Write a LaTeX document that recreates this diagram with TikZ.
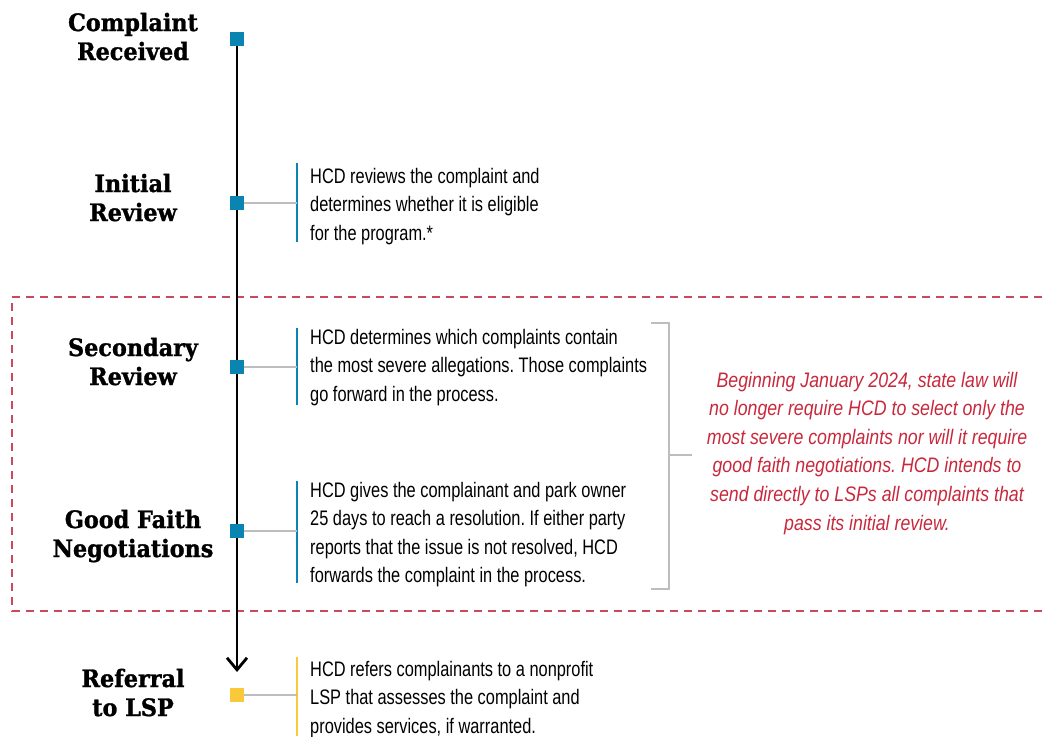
\documentclass[tikz,border=0pt]{standalone}
\usepackage{fontspec}
\setmainfont{Liberation Sans}[FakeStretch=0.78]
\newfontfamily\headfont{DejaVu Serif}[FakeStretch=0.93, BoldFeatures={FakeBold=1.2}]
\newfontfamily\notefont{Liberation Sans}[FakeStretch=0.845]
\usetikzlibrary{arrows.meta}
\frenchspacing

\definecolor{stepblue}{HTML}{0A84B0}
\definecolor{stepyellow}{HTML}{F9C93A}
\definecolor{notered}{HTML}{C8283C}
\definecolor{boxred}{HTML}{C94A5A}
\definecolor{linkgray}{HTML}{BDBDBD}

% multi-line nodes are anchored at the baseline of their last line
\tikzset{
  heading/.style={font=\headfont\bfseries\fontsize{24}{29}\selectfont, align=center, anchor=base, inner sep=0pt},
  body/.style={font=\fontsize{21}{28.5}\selectfont, align=left, anchor=base west, inner sep=0pt},
  note/.style={font=\notefont\itshape\fontsize{21}{28.6}\selectfont, text=notered, align=center, anchor=base, inner sep=0pt},
  marker/.style={minimum size=14pt, inner sep=0pt, fill=stepblue},
  link/.style={draw=linkgray, line width=1.5pt},
  textbar/.style={draw=stepblue, line width=2pt},
  timeline/.style={draw=black, line width=2.8pt},
  dashbox/.style={draw=boxred, line width=1.5pt, dash pattern=on 8pt off 6pt},
  bracket/.style={draw=linkgray, line width=1.5pt},
}

\begin{document}
\begin{tikzpicture}[x=1pt, y=-1pt]
\useasboundingbox (0,0) rectangle (1046,736);

% dashed frame around the steps that are being dropped
\draw[dashbox] (1042,297) -| (12,611) -- (1042,611);

% main timeline
\coordinate (top) at (237,39);
\coordinate (tip) at (237,672);
\draw[timeline, -{Straight Barb[length=12pt, width=20pt]}] (top) -- (tip);

% step markers
\node[marker] (m1) at (237,39) {};
\node[marker] (m2) at (237,203) {};
\node[marker] (m3) at (237,367) {};
\node[marker] (m4) at (237,531) {};
\node[marker, fill=stepyellow] (m5) at (237,695) {};

% step headings
\node[heading] (h1) at (133,60) {Complaint\\Received};
\node[heading] (h2) at (133,221) {Initial\\Review};
\node[heading] (h3) at (133,385) {Secondary\\Review};
\node[heading] (h4) at (133,557) {Good Faith\\Negotiations};
\node[heading] (h5) at (133,716) {Referral\\to LSP};

% text bars
\coordinate (b2t) at (297,163); \coordinate (b2b) at (297,242);
\coordinate (b3t) at (297,328); \coordinate (b3b) at (297,405);
\coordinate (b4t) at (297,481); \coordinate (b4b) at (297,583);
\coordinate (b5t) at (297,657); \coordinate (b5b) at (297,736);
\draw[textbar] (b2t) -- (b2b);
\draw[textbar] (b3t) -- (b3b);
\draw[textbar] (b4t) -- (b4b);
\draw[textbar, draw=stepyellow] (b5t) -- (b5b);

% connectors from markers to text bars
\draw[link] (m2.east) -- (m2.east -| b2t);
\draw[link] (m3.east) -- (m3.east -| b3t);
\draw[link] (m4.east) -- (m4.east -| b4t);
\draw[link] (m5.east) -- (m5.east -| b5t);

% step descriptions
\node[body] (d2) at (310,240) {HCD reviews the complaint and\\determines whether it is eligible\\for the program.*};
\node[body] (d3) at (310,401) {HCD determines which complaints contain\\the most severe allegations. Those complaints\\go forward in the process.};
\node[body] (d4) at (310,582.5) {HCD gives the complainant and park owner\\25 days to reach a resolution. If either party\\reports that the issue is not resolved, HCD\\forwards the complaint in the process.};
\node[body] (d5) at (310,733) {HCD refers complainants to a nonprofit\\LSP that assesses the complaint and\\provides services, if warranted.};

% bracket grouping the two dropped steps
\coordinate (k1) at (651,323);
\coordinate (k2) at (669,323);
\coordinate (k3) at (669,589);
\coordinate (k4) at (651,589);
\coordinate (km) at (669,455);
\coordinate (kt) at (692,455);
\draw[bracket] (k1) -- (k2) -- (k3) -- (k4);
\draw[bracket] (km) -- (kt);

% note on the law change
\node[note] (n1) at (867,530) {Beginning January 2024, state law will\\no longer require HCD to select only the\\most severe complaints nor will it require\\good faith negotiations. HCD intends to\\send directly to LSPs all complaints that\\pass its initial review.};
\end{tikzpicture}
\end{document}
